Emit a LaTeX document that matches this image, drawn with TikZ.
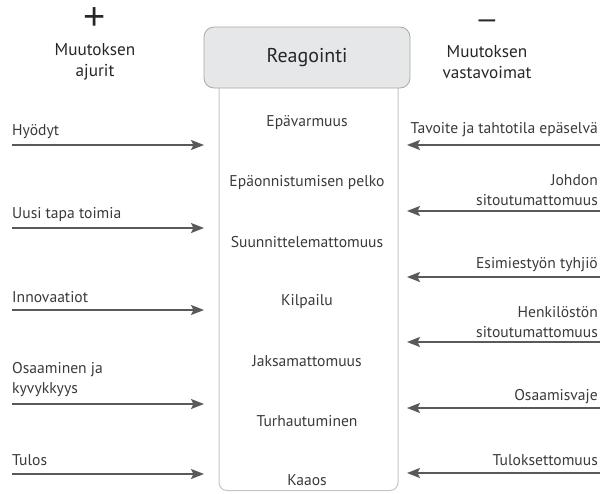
\documentclass[tikz,border=0pt]{standalone}
\usepackage{fontspec}
\setmainfont{PT Sans}
\newfontfamily\symfont{Liberation Sans}
\usetikzlibrary{arrows.meta}
\definecolor{arr}{HTML}{595959}
\definecolor{txt}{HTML}{3A3A3A}
\definecolor{boxfill}{HTML}{E6E7E8}
\definecolor{boxline}{HTML}{A8A8A8}
\definecolor{colline}{HTML}{C4C4C4}
\begin{document}
\begin{tikzpicture}[x=1pt,y=-1pt,
  lab/.style={font=\fontsize{15.6}{20}\selectfont, text=txt, inner sep=0pt},
  head/.style={font=\fontsize{17.2}{21}\selectfont, text=black!85, inner sep=0pt, align=center},
  mid/.style={font=\fontsize{15.6}{18}\selectfont, text=txt, inner sep=0pt},
  sign/.style={font=\symfont\fontsize{38}{38}\selectfont, text=black!85, inner sep=0pt},
  arrowline/.style={draw=arr, line width=2pt, -{Stealth[length=13pt,width=10pt,inset=2.5pt]}},
]
\useasboundingbox (0,0) rectangle (600,493);
% column
\draw[colline, line width=1pt, rounded corners=8pt] (219,80) -- (219,490.5) -- (398,490.5) -- (398,80);
\node[draw=boxline, fill=boxfill, line width=0.8pt, rounded corners=10pt, minimum width=206pt, minimum height=61pt, font=\fontsize{20}{24}\selectfont, text=black!85] (reag) at (307,57.5) {Reagointi};
% headings
\node[sign] (plus) at (95,19) {+};
\node[sign, font=\symfont\fontsize{30}{30}\selectfont] (minus) at (487,24) {–};
\node[head] (ajurit) at (95,62) {Muutoksen\\ajurit};
\node[head] (vasta) at (487,62) {Muutoksen\\vastavoimat};
% middle texts
\node[mid] (m1) at (307,123) {Epävarmuus};
\node[mid] (m2) at (307,183) {Epäonnistumisen pelko};
\node[mid] (m3) at (307,242) {Suunnittelemattomuus};
\node[mid] (m4) at (307,302) {Kilpailu};
\node[mid] (m5) at (307,361) {Jaksamattomuus};
\node[mid] (m6) at (307,421) {Turhautuminen};
\node[mid] (m7) at (307,480) {Kaaos};
% left labels
\node[lab, anchor=west] (l1) at (12,132) {Hyödyt};
\node[lab, anchor=west] (l2) at (12,215) {Uusi tapa toimia};
\node[lab, anchor=west] (l3) at (12,297) {Innovaatiot};
\node[lab, anchor=west, align=left] (l4) at (12,380) {Osaaminen ja\\kyvykkyys};
\node[lab, anchor=west] (l5) at (12,460) {Tulos};
% right labels
\node[lab, anchor=east] (r1) at (598,130) {Tavoite ja tahtotila epäselvä};
\node[lab, anchor=east, align=right] (r2) at (598,190) {Johdon\\sitoutumattomuus};
\node[lab, anchor=east] (r3) at (598,265) {Esimiestyön tyhjiö};
\node[lab, anchor=east, align=right] (r4) at (598,322) {Henkilöstön\\sitoutumattomuus};
\node[lab, anchor=east] (r5) at (598,397) {Osaamisvaje};
\node[lab, anchor=east] (r6) at (598,460) {Tuloksettomuus};
% arrow end points
\foreach \n/\y in {1/145,2/228,3/310,4/404,5/474}{
  \coordinate (ls\n) at (12,\y);
  \coordinate (le\n) at (204,\y);
}
\foreach \n/\y in {1/145,2/211,3/277,4/342,5/408,6/473}{
  \coordinate (rs\n) at (600,\y);
  \coordinate (re\n) at (407,\y);
}
\foreach \n in {1,...,5}{\draw[arrowline] (ls\n) -- (le\n);}
\foreach \n in {1,...,6}{\draw[arrowline] (rs\n) -- (re\n);}
\end{tikzpicture}
\end{document}
